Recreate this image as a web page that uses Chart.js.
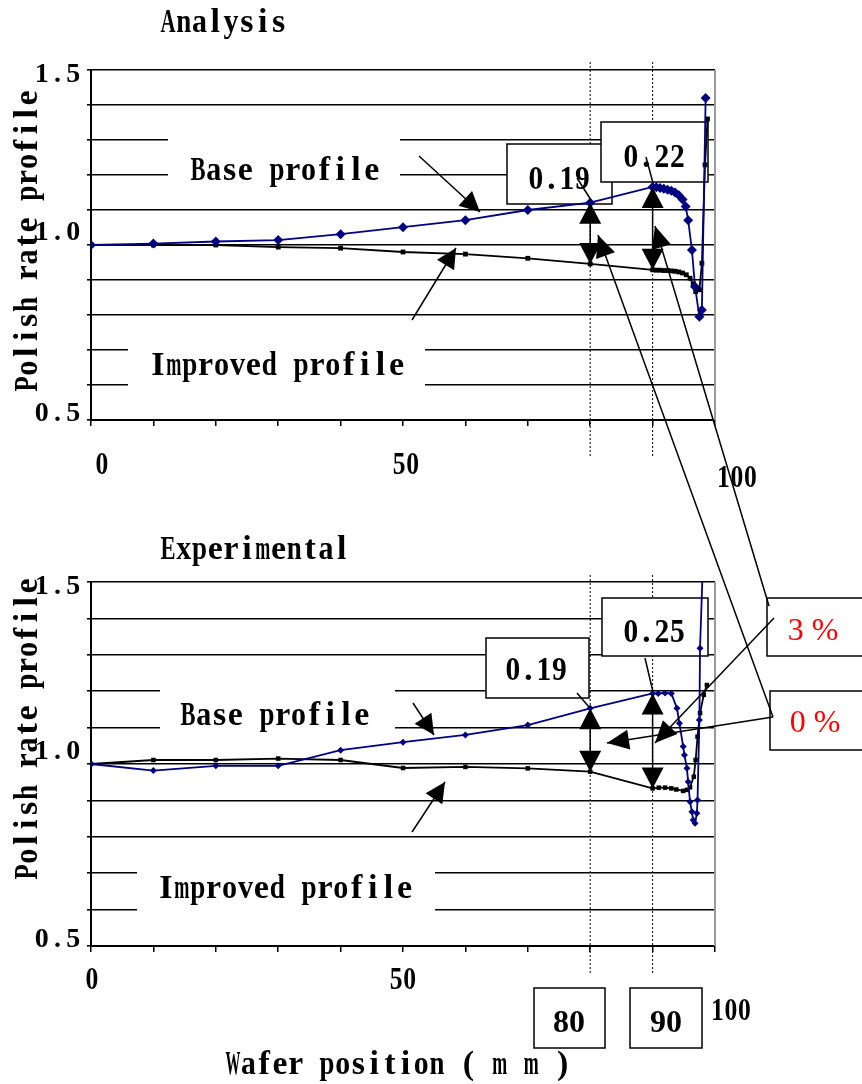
<!DOCTYPE html>
<html>
<head>
<meta charset="utf-8">
<script src="https://cdn.jsdelivr.net/npm/chart.js@4.4.1/dist/chart.umd.min.js"></script>
<style>
    html, body { margin: 0; padding: 0; background: #fff; }
    #wrap { position: relative; width: 862px; height: 1084px; overflow: hidden; }
    #wrap canvas { position: absolute; left: 0; top: 0; }
</style>
</head>
<body>
<div id="wrap">
    <canvas id="analysisChart" width="862" height="1084"></canvas>
    <canvas id="experimentChart" width="862" height="1084"></canvas>
</div>
<script>
// ========== DATA ==========
const yTickLabels = [1.5, 1.0, 0.5];
const xTickLabels = [0, 50, 100];
const markedPositions = [80, 90];

// Analysis (simulated)
const analysisBaseX = [0, 10, 20, 30, 40, 50, 60, 70, 80, 90, 90.6, 91.2, 91.8, 92.4, 93, 93.6, 94.2, 94.8, 95.3, 95.7, 96.3, 96.8, 97.5, 97.9, 98.5];
const analysisBaseY = [1.0, 1.004, 1.01, 1.014, 1.031, 1.051, 1.071, 1.1, 1.121, 1.166, 1.165, 1.163, 1.161, 1.158, 1.155, 1.15, 1.142, 1.13, 1.11, 1.071, 0.986, 0.881, 0.795, 0.814, 1.42];
const analysisImprovedX = [0, 10, 20, 30, 40, 50, 60, 70, 80, 90, 90.6, 91.2, 91.8, 92.4, 93, 93.6, 94.2, 94.8, 95.4, 96, 96.5, 96.9, 97.5, 97.9, 98.4, 98.8];
const analysisImprovedY = [1.0, 1.0, 1.0, 0.994, 0.991, 0.98, 0.974, 0.962, 0.946, 0.929, 0.928, 0.928, 0.927, 0.927, 0.926, 0.925, 0.923, 0.92, 0.915, 0.905, 0.889, 0.867, 0.872, 0.948, 1.229, 1.36];

// Experimental
const experimentBaseX = [0, 10, 20, 30, 40, 50, 60, 70, 80, 90, 90.9, 92, 93, 93.9, 94.3, 94.9, 95.1, 95.5, 95.7, 96, 96.3, 96.5, 96.8, 97.1, 97.2, 97.5, 97.6, 98];
const experimentBaseY = [1.0, 0.982, 0.995, 0.995, 1.038, 1.06, 1.08, 1.107, 1.153, 1.194, 1.194, 1.195, 1.194, 1.153, 1.112, 1.048, 1.025, 0.988, 0.951, 0.896, 0.869, 0.846, 0.837, 0.865, 0.901, 1.121, 1.318, 1.52];
const experimentImprovedX = [0, 10, 20, 30, 40, 50, 60, 70, 80, 90, 91, 92, 93, 93.8, 94.9, 95.5, 96, 96.6, 96.9, 97.2, 97.6, 98.2, 98.7];
const experimentImprovedY = [1.0, 1.011, 1.011, 1.015, 1.011, 0.989, 0.992, 0.988, 0.979, 0.933, 0.935, 0.935, 0.933, 0.93, 0.926, 0.929, 0.936, 0.965, 1.011, 1.075, 1.14, 1.19, 1.217];

// differences written in the boxes
const analysisDiffs = ['0.19', '0.22'];
const experimentDiffs = ['0.19', '0.25'];
const errorLabels = ['3 %', '0 %'];

// ========== HELPERS ==========
const SERIF = '"Liberation Serif", "Times New Roman", serif';
const NAVY = '#000080';

function points(xs, ys) {
    return xs.map((x, i) => ({ x: x, y: ys[i] }));
}

function valueAt(xs, ys, x) {
    return ys[xs.indexOf(x)];
}

// half-width monospaced text, like the Mincho font of the original
function mono(ctx, text, x, y, adv, size, align, weight) {
    ctx.save();
    ctx.font = (weight || 'bold') + ' ' + size + 'px ' + SERIF;
    ctx.textAlign = 'center';
    ctx.textBaseline = 'alphabetic';
    const total = adv * text.length;
    let sx = align === 'center' ? x - total / 2 : (align === 'right' ? x - total : x);
    for (const ch of text) {
        if (ch !== ' ') {
            const w = ctx.measureText(ch).width;
            const s = w > adv * 0.95 ? adv * 0.95 / w : 1;
            ctx.save();
            ctx.translate(sx + adv / 2, y);
            ctx.scale(s, 1);
            ctx.fillText(ch, 0, 0);
            ctx.restore();
        }
        sx += adv;
    }
    ctx.restore();
}

function head(ctx, fx, fy, tx, ty, len, half) {
    const a = Math.atan2(ty - fy, tx - fx);
    ctx.beginPath();
    ctx.moveTo(tx, ty);
    ctx.lineTo(tx - len * Math.cos(a) + half * Math.sin(a), ty - len * Math.sin(a) - half * Math.cos(a));
    ctx.lineTo(tx - len * Math.cos(a) - half * Math.sin(a), ty - len * Math.sin(a) + half * Math.cos(a));
    ctx.closePath();
    ctx.fill();
}

function line(ctx, x1, y1, x2, y2) {
    ctx.beginPath();
    ctx.moveTo(x1, y1);
    ctx.lineTo(x2, y2);
    ctx.stroke();
}

function arrow(ctx, fx, fy, tx, ty, len, half) {
    line(ctx, fx, fy, tx, ty);
    head(ctx, fx, fy, tx, ty, len || 20, half || 10);
}

function whiteRect(ctx, x1, y1, x2, y2, border) {
    ctx.fillStyle = '#fff';
    ctx.fillRect(x1, y1, x2 - x1, y2 - y1);
    if (border) {
        ctx.strokeStyle = '#000';
        ctx.lineWidth = 1.5;
        ctx.strokeRect(x1, y1, x2 - x1, y2 - y1);
    }
}

function dotted(ctx, x, y1, y2) {
    ctx.save();
    ctx.strokeStyle = '#000';
    ctx.lineWidth = 1;
    ctx.setLineDash([2, 2]);
    line(ctx, x, y1, x, y2);
    ctx.restore();
}

function axisTexts(chart, opt) {
    const ctx = chart.ctx;
    const { x: xs, y: ys } = chart.scales;
    ctx.fillStyle = '#000';
    // y tick labels
    const yOff = { '1.5': 12, '1.0': -5, '0.5': 1 };
    yTickLabels.forEach(v => {
        const t = v.toFixed(1);
        mono(ctx, t, 81, ys.getPixelForValue(v) + yOff[t], 15.7, 28, 'right');
    });
    // x tick labels
    xTickLabels.forEach((v, i) => {
        const o = opt.xOff[i];
        mono(ctx, String(v), xs.getPixelForValue(v) + o[0], o[1], 13.5, 31, 'center');
    });
    // titles
    mono(ctx, opt.title, 160, opt.titleY, 15.8, 34, 'left');
    ctx.save();
    ctx.translate(37, opt.labelStart);
    ctx.rotate(-Math.PI / 2);
    mono(ctx, 'Polish rate profile', 0, 0, 15.9, 34, 'left');
    ctx.restore();
    // right frame
    ctx.save();
    ctx.strokeStyle = '#9a9a9a';
    ctx.lineWidth = 2;
    line(ctx, chart.chartArea.right, chart.chartArea.top, chart.chartArea.right, chart.chartArea.bottom);
    ctx.restore();
}

function diffArrows(chart, bx, by, ix, iy) {
    const ctx = chart.ctx;
    const { x: xs, y: ys } = chart.scales;
    ctx.save();
    ctx.strokeStyle = '#000';
    ctx.fillStyle = '#000';
    ctx.lineWidth = 1.5;
    markedPositions.forEach(p => {
        const px = xs.getPixelForValue(p);
        const yb = ys.getPixelForValue(valueAt(bx, by, p));
        const yi = ys.getPixelForValue(valueAt(ix, iy, p));
        line(ctx, px, yb + 10, px, yi - 10);
        head(ctx, px, yi, px, yb, 21, 11);
        head(ctx, px, yb, px, yi, 21, 11);
    });
    ctx.restore();
}

function baseOptions(padding) {
    return {
        responsive: false,
        animation: false,
        events: [],
        layout: { padding: padding },
        plugins: { legend: { display: false }, tooltip: { enabled: false } },
        scales: {
            x: {
                type: 'linear', min: 0, max: 100,
                ticks: { display: false, stepSize: 10 },
                grid: { drawOnChartArea: false, tickLength: 6, color: '#000', lineWidth: 1.5 },
                border: { color: '#000', width: 2 }
            },
            y: {
                min: 0.5, max: 1.5,
                ticks: { display: false, stepSize: 0.1 },
                grid: { color: '#000', lineWidth: 1.6, tickLength: 4 },
                border: { color: '#000', width: 2 }
            }
        }
    };
}

function datasets(bx, by, ix, iy, baseRadius, impRadius) {
    return [
        {
            data: points(bx, by),
            borderColor: NAVY, backgroundColor: NAVY, borderWidth: 1.8,
            pointStyle: 'rectRot', pointRadius: baseRadius, pointBorderWidth: 0, tension: 0
        },
        {
            data: points(ix, iy),
            borderColor: '#000', backgroundColor: '#000', borderWidth: 1.8,
            pointStyle: 'rect', pointRadius: impRadius, pointBorderWidth: 0, tension: 0
        }
    ];
}

// ========== ANALYSIS CHART ==========
const analysisDecor = {
    id: 'analysisDecor',
    beforeDatasetsDraw(chart) {
        const ctx = chart.ctx;
        const xs = chart.scales.x;
        ctx.save();
        markedPositions.forEach(p => dotted(ctx, xs.getPixelForValue(p), 62, 458));
        whiteRect(ctx, 168, 122, 400, 192);
        whiteRect(ctx, 128, 335, 425, 398);
        whiteRect(ctx, 507, 144, 612, 204, true);
        whiteRect(ctx, 601, 122, 708, 182, true);
        ctx.fillStyle = '#000';
        mono(ctx, 'Base profile', 190, 180, 15.8, 34, 'left');
        mono(ctx, 'Improved profile', 150, 375, 15.9, 34, 'left');
        mono(ctx, analysisDiffs[0], 559, 189, 15.5, 33, 'center');
        mono(ctx, analysisDiffs[1], 654, 167, 15.5, 33, 'center');
        ctx.restore();
    },
    afterDatasetsDraw(chart) {
        const ctx = chart.ctx;
        diffArrows(chart, analysisBaseX, analysisBaseY, analysisImprovedX, analysisImprovedY);
        ctx.save();
        ctx.strokeStyle = '#000';
        ctx.fillStyle = '#000';
        ctx.lineWidth = 1.5;
        line(ctx, 577, 178, 591, 200);
        line(ctx, 646, 157, 653, 183);
        arrow(ctx, 419, 156, 480, 212);
        arrow(ctx, 412, 320, 456, 248);
        ctx.restore();
    },
    afterDraw(chart) {
        axisTexts(chart, {
            title: 'Analysis', titleY: 32, labelStart: 392,
            xOff: [[11, 474], [3, 474], [22, 487]]
        });
    }
};

const analysisChart = new Chart(document.getElementById('analysisChart'), {
    type: 'line',
    data: { datasets: datasets(analysisBaseX, analysisBaseY, analysisImprovedX, analysisImprovedY, 5, 3.4) },
    options: baseOptions({ left: 87, right: 147, top: 70, bottom: 658 }),
    plugins: [analysisDecor]
});

// ========== EXPERIMENTAL CHART ==========
const experimentDecor = {
    id: 'experimentDecor',
    beforeDatasetsDraw(chart) {
        const ctx = chart.ctx;
        const xs = chart.scales.x;
        ctx.save();
        markedPositions.forEach(p => dotted(ctx, xs.getPixelForValue(p), 575, 975));
        whiteRect(ctx, 160, 672, 395, 745);
        whiteRect(ctx, 137, 855, 435, 925);
        whiteRect(ctx, 486, 638, 589, 698, true);
        whiteRect(ctx, 602, 598, 708, 656, true);
        ctx.fillStyle = '#000';
        mono(ctx, 'Base profile', 180, 725, 15.8, 34, 'left');
        mono(ctx, 'Improved profile', 158, 898, 15.9, 34, 'left');
        mono(ctx, experimentDiffs[0], 536, 680, 15.5, 33, 'center');
        mono(ctx, experimentDiffs[1], 654, 642, 15.5, 33, 'center');
        ctx.restore();
    },
    afterDatasetsDraw(chart) {
        const ctx = chart.ctx;
        diffArrows(chart, experimentBaseX, experimentBaseY, experimentImprovedX, experimentImprovedY);
        ctx.save();
        ctx.strokeStyle = '#000';
        ctx.fillStyle = '#000';
        ctx.lineWidth = 1.5;
        line(ctx, 577, 693, 589, 707);
        line(ctx, 645, 658, 653, 692);
        arrow(ctx, 413, 703, 434, 735);
        arrow(ctx, 412, 832, 445, 782);
        ctx.restore();
    },
    afterDraw(chart) {
        const ctx = chart.ctx;
        axisTexts(chart, {
            title: 'Experimental', titleY: 559, labelStart: 880,
            xOff: [[1, 989], [0, 989], [16, 1020]]
        });
        ctx.save();
        // boxes under the axis
        whiteRect(ctx, 534, 988, 605, 1048, true);
        whiteRect(ctx, 630, 988, 702, 1048, true);
        ctx.fillStyle = '#000';
        ctx.font = 'bold 32px ' + SERIF;
        ctx.textAlign = 'center';
        ctx.fillText(String(markedPositions[0]), 569, 1032);
        ctx.fillText(String(markedPositions[1]), 666, 1032);
        mono(ctx, 'Wafer position ( m m )', 225, 1074, 15.7, 34, 'left');

        // error boxes and the lines that tie both charts together
        whiteRect(ctx, 767, 598, 872, 656, true);
        whiteRect(ctx, 770, 691, 872, 750, true);
        ctx.fillStyle = '#ff0000';
        ctx.font = '32px ' + SERIF;
        ctx.textAlign = 'center';
        ctx.fillText(errorLabels[0], 813, 640);
        ctx.fillText(errorLabels[1], 815, 732);

        ctx.strokeStyle = '#000';
        ctx.fillStyle = '#000';
        ctx.lineWidth = 1.5;
        arrow(ctx, 773, 717, 598, 235, 22, 10);
        arrow(ctx, 769, 606, 655, 226, 22, 10);
        arrow(ctx, 773, 717, 607, 743, 22, 10);
        arrow(ctx, 774, 618, 655, 743, 22, 10);
        ctx.restore();
    }
};

const experimentChart = new Chart(document.getElementById('experimentChart'), {
    type: 'line',
    data: { datasets: datasets(experimentBaseX, experimentBaseY, experimentImprovedX, experimentImprovedY, 3.5, 3.2) },
    options: baseOptions({ left: 87, right: 147, top: 582, bottom: 132 }),
    plugins: [experimentDecor]
});
</script>
</body>
</html>
